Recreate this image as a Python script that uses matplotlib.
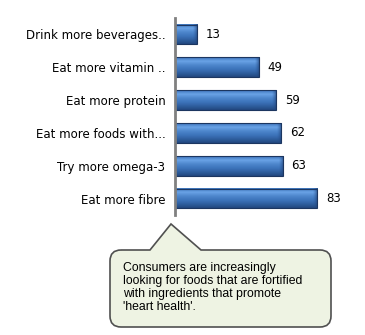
import numpy as np
import matplotlib.pyplot as plt
from matplotlib.path import Path
from matplotlib.patches import PathPatch
from matplotlib.colors import LinearSegmentedColormap

categories = ['Drink more beverages..', 'Eat more vitamin ..', 'Eat more protein',
              'Eat more foods with...', 'Try more omega-3', 'Eat more fibre']
values = [13, 49, 59, 62, 63, 83]
note = ("Consumers are increasingly\nlooking for foods that are fortified\n"
        "with ingredients that promote\n'heart health'.")

W, H = 365, 335
fig = plt.figure(figsize=(W / 100, H / 100), dpi=100)
fig.patch.set_facecolor('white')

ax = fig.add_axes([175 / W, 1 - 215 / H, 190 / W, 197 / H])
ypos = list(range(len(categories)))[::-1]
bh = 0.6

# vertical gradient inside each bar (bevel look)
cmap = LinearSegmentedColormap.from_list(
    'bev', ['#22477e', '#2f5f9f', '#3d74bb', '#4d86cc', '#6aa3e6', '#3d74bb'])
grad = np.linspace(0, 1, 64).reshape(-1, 1)
for y, v in zip(ypos, values):
    ax.imshow(grad, cmap=cmap, aspect='auto', origin='lower',
              extent=(0, v, y - bh / 2, y + bh / 2), zorder=2)
    ax.imshow(np.linspace(0, 1, 32).reshape(1, -1), cmap=LinearSegmentedColormap.from_list(
        'cap', [(0.17, 0.33, 0.58, 0), (0.12, 0.25, 0.45, 0.75)]),
        aspect='auto', extent=(v - 2.5, v, y - bh / 2, y + bh / 2), zorder=2.5)

ax.barh(ypos, values, height=bh, facecolor='none', edgecolor='#1c3660',
        linewidth=0.8, zorder=3)

for y, v in zip(ypos, values):
    ax.text(v + 5, y, str(v), va='center', ha='left', fontsize=8.5, color='black')

ax.set_xlim(0, 110.8)
ax.set_ylim(-0.5, len(categories) - 0.5)
ax.set_yticks(ypos)
ax.set_yticklabels(categories, fontsize=8.5)
ax.tick_params(axis='y', length=0, pad=7)
ax.set_xticks([])
for s in ['top', 'right', 'bottom']:
    ax.spines[s].set_visible(False)
ax.spines['left'].set_color('#808080')
ax.spines['left'].set_linewidth(2)
ax.spines['left'].set_zorder(4)
ax.set_facecolor('none')


def px(x, y):
    return (x / W, 1 - y / H)


# callout box with a pointer on top
l, r, t, b, rad = 110, 331, 250, 327, 11
pts = [(l + rad, t), (150, t), (171, 224), (201, t), (r - rad, t),
       (r, t), (r, t + rad), (r, b - rad), (r, b), (r - rad, b),
       (l + rad, b), (l, b), (l, b - rad), (l, t + rad), (l, t), (l + rad, t)]
codes = [Path.MOVETO, Path.LINETO, Path.LINETO, Path.LINETO, Path.LINETO,
         Path.CURVE3, Path.CURVE3, Path.LINETO, Path.CURVE3, Path.CURVE3,
         Path.LINETO, Path.CURVE3, Path.CURVE3, Path.LINETO, Path.CURVE3, Path.CURVE3]
path = Path([px(*p) for p in pts], codes)
fig.patches.append(PathPatch(path, transform=fig.transFigure, facecolor='#eef3e3',
                             edgecolor='#505050', linewidth=1.2))

fig.text(123 / W, 1 - 262 / H, note, ha='left', va='top', fontsize=8.8,
         family='Liberation Sans', linespacing=1.12)

fig.savefig('out.png', dpi=100)
